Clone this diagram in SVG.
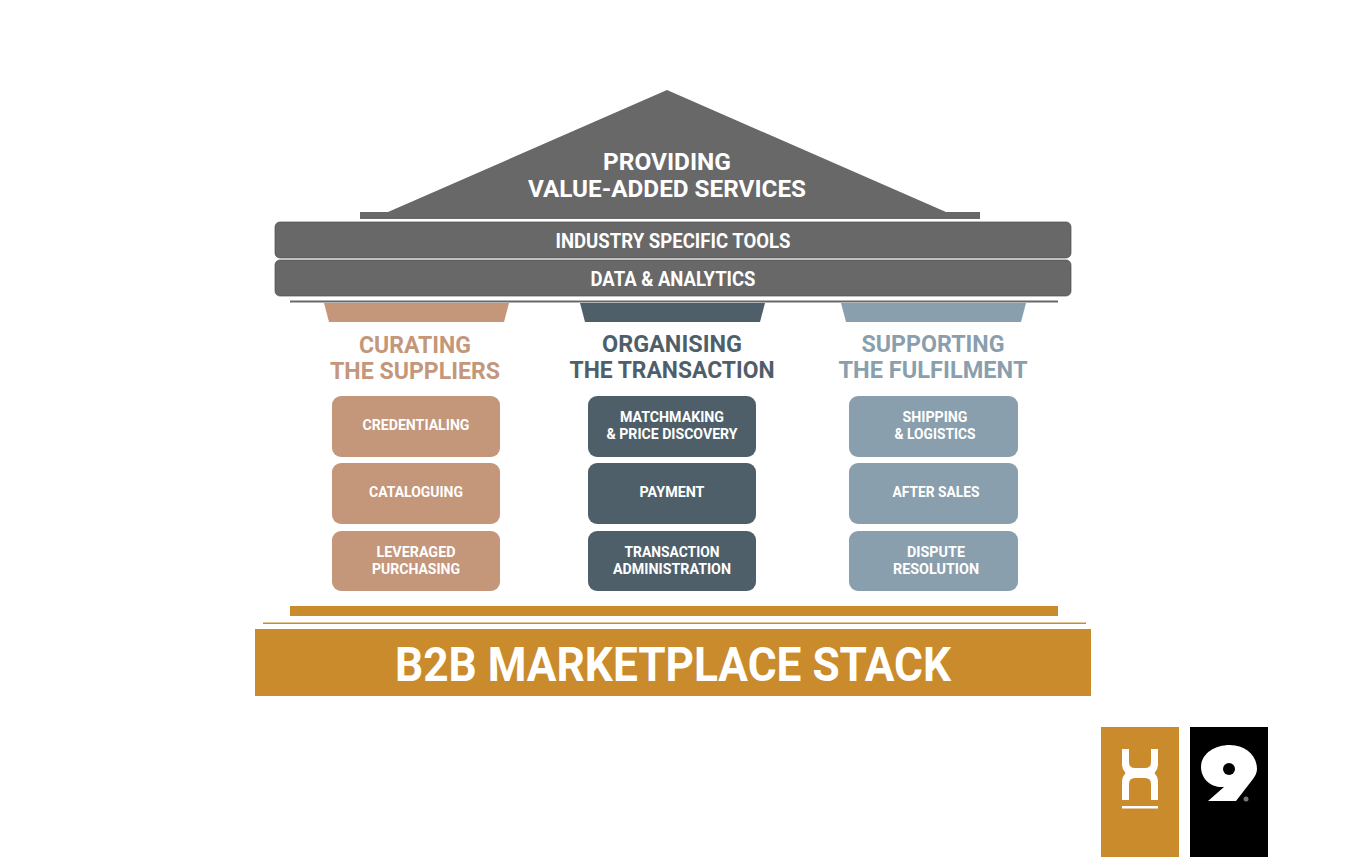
<svg xmlns="http://www.w3.org/2000/svg" width="1358" height="857" viewBox="0 0 1358 857">
<style>
text{font-family:Roboto,"Open Sans",sans-serif;font-weight:700;text-anchor:middle;fill:#fff}
.g{fill:#686868}
.bar{stroke:#4e4e4e;stroke-width:.7}
.r{fill:#c4967a}.d{fill:#4f5f69}.b{fill:#8a9fad}
.m{font-size:15.500px}
.h{font-size:23.500px}
text.tr{fill:#c4967a}text.td{fill:#4f5f69}text.tb{fill:#8a9fad}
</style>
<rect width="1358" height="857" fill="#fff"/>
<g id="roof">
<path class="g" d="M667 90 L946 212 H980 V219 H360 V212 H388 Z"/>
<text class="h"><tspan x="667" y="170" textLength="128" lengthAdjust="spacingAndGlyphs">PROVIDING</tspan><tspan x="667" y="197" textLength="278" lengthAdjust="spacingAndGlyphs">VALUE-ADDED SERVICES</tspan></text>
</g>
<g id="industry-tools">
<rect class="g bar" x="275" y="222" width="796" height="36" rx="5"/>
<text x="673" y="247.500" font-size="21" textLength="235" lengthAdjust="spacingAndGlyphs">INDUSTRY SPECIFIC TOOLS</text>
</g>
<g id="data-analytics">
<rect class="g bar" x="275" y="260" width="796" height="36" rx="5"/>
<text x="673" y="285.500" font-size="21" textLength="165" lengthAdjust="spacingAndGlyphs">DATA &amp; ANALYTICS</text>
</g>
<rect id="beam" x="290" y="300.500" width="768" height="2" fill="#686868"/>
<g id="pillar-suppliers">
<path class="r" d="M324 303 H509 L504 322 H329 Z"/>
<text class="h tr"><tspan x="415" y="353" textLength="112" lengthAdjust="spacingAndGlyphs">CURATING</tspan><tspan x="415" y="379" textLength="170" lengthAdjust="spacingAndGlyphs">THE SUPPLIERS</tspan></text>
</g>
<g id="pillar-transaction">
<path class="d" d="M580 303 H765 L760 322 H585 Z"/>
<text class="h td"><tspan x="672" y="352" textLength="140" lengthAdjust="spacingAndGlyphs">ORGANISING</tspan><tspan x="672" y="378" textLength="205" lengthAdjust="spacingAndGlyphs">THE TRANSACTION</tspan></text>
</g>
<g id="pillar-fulfilment">
<path class="b" d="M841 303 H1026 L1021 322 H846 Z"/>
<text class="h tb"><tspan x="933" y="352" textLength="143" lengthAdjust="spacingAndGlyphs">SUPPORTING</tspan><tspan x="933" y="378" textLength="189" lengthAdjust="spacingAndGlyphs">THE FULFILMENT</tspan></text>
</g>
<g id="credentialing"><rect class="r" x="332" y="396" width="168" height="61" rx="9"/>
<text class="m" x="416" y="430" textLength="107" lengthAdjust="spacingAndGlyphs">CREDENTIALING</text></g>
<g id="cataloguing"><rect class="r" x="332" y="463" width="168" height="61" rx="9"/>
<text class="m" x="416" y="497" textLength="94" lengthAdjust="spacingAndGlyphs">CATALOGUING</text></g>
<g id="leveraged-purchasing"><rect class="r" x="332" y="531" width="168" height="60" rx="9"/>
<text class="m" x="416" y="557" textLength="79" lengthAdjust="spacingAndGlyphs">LEVERAGED</text>
<text class="m" x="416" y="574" textLength="88" lengthAdjust="spacingAndGlyphs">PURCHASING</text></g>
<g id="matchmaking"><rect class="d" x="588" y="396" width="168" height="61" rx="9"/>
<text class="m" x="672" y="422" textLength="104" lengthAdjust="spacingAndGlyphs">MATCHMAKING</text>
<text class="m" x="672" y="439" textLength="131" lengthAdjust="spacingAndGlyphs">&amp; PRICE DISCOVERY</text></g>
<g id="payment"><rect class="d" x="588" y="463" width="168" height="61" rx="9"/>
<text class="m" x="672" y="497" textLength="65" lengthAdjust="spacingAndGlyphs">PAYMENT</text></g>
<g id="transaction-administration"><rect class="d" x="588" y="531" width="168" height="60" rx="9"/>
<text class="m" x="672" y="557" textLength="95" lengthAdjust="spacingAndGlyphs">TRANSACTION</text>
<text class="m" x="672" y="574" textLength="118" lengthAdjust="spacingAndGlyphs">ADMINISTRATION</text></g>
<g id="shipping-logistics"><rect class="b" x="849" y="396" width="169" height="61" rx="9"/>
<text class="m" x="935" y="422" textLength="65" lengthAdjust="spacingAndGlyphs">SHIPPING</text>
<text class="m" x="935" y="439" textLength="81" lengthAdjust="spacingAndGlyphs">&amp; LOGISTICS</text></g>
<g id="after-sales"><rect class="b" x="849" y="463" width="169" height="61" rx="9"/>
<text class="m" x="936" y="497" textLength="87" lengthAdjust="spacingAndGlyphs">AFTER SALES</text></g>
<g id="dispute-resolution"><rect class="b" x="849" y="531" width="169" height="60" rx="9"/>
<text class="m" x="936" y="557" textLength="58" lengthAdjust="spacingAndGlyphs">DISPUTE</text>
<text class="m" x="936" y="574" textLength="86" lengthAdjust="spacingAndGlyphs">RESOLUTION</text></g>
<g id="base">
<rect x="290" y="606" width="768" height="10" fill="#c98b2b"/>
<rect x="263" y="622.500" width="823" height="1.500" fill="#c98b2b"/>
<rect x="255" y="629" width="836" height="67" fill="#c98b2b"/>
<text x="673" y="681" font-size="47.500" textLength="556" lengthAdjust="spacingAndGlyphs">B2B MARKETPLACE STACK</text>
</g>
<g id="logo-h">
<rect x="1101" y="727" width="78" height="130" fill="#c98b2b"/>
<path d="M1122 749 H1129 V762 Q1129 768 1135 768 H1145 Q1151 768 1151 762 V749 H1158 V765 Q1158 769 1154.500 773 Q1158 777 1158 781 V800 H1151 V784 Q1151 778 1145 778 H1135 Q1129 778 1129 784 V800 H1122 V781 Q1122 777 1125.500 773 Q1122 769 1122 765 Z" fill="#fff"/>
<rect x="1122" y="806" width="36" height="2.500" fill="#fff"/>
</g>
<g id="logo-9">
<rect x="1190" y="727" width="78" height="130"/>
<path d="M1230 745 C1246 745 1257 756 1257 769 C1257 773 1255 776 1253 779 L1236 801 H1208 L1224 787 C1210 788 1201 778 1201 767 C1201 755 1213 745 1230 745 Z" fill="#fff"/>
<circle cx="1229" cy="769" r="6" fill="#000"/>
<circle cx="1246" cy="799" r="2.500" fill="#777"/>
</g>
</svg>
